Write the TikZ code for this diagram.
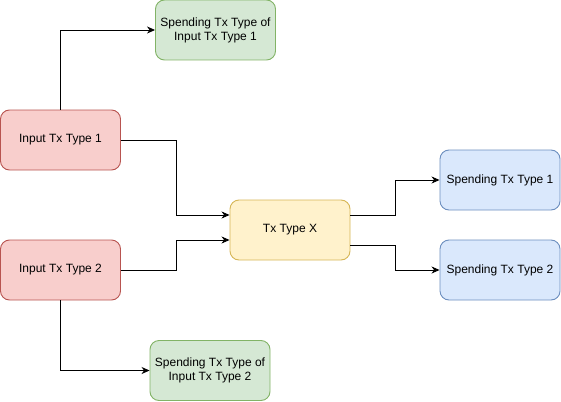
\documentclass[tikz,border=0pt]{standalone}
\usepackage{fontspec}
\setmainfont{Liberation Sans}
\usetikzlibrary{arrows.meta}
\definecolor{RedFill}{HTML}{F8CECC}
\definecolor{RedLine}{HTML}{B85450}
\definecolor{GreenFill}{HTML}{D5E8D4}
\definecolor{GreenLine}{HTML}{82B366}
\definecolor{YellowFill}{HTML}{FFF2CC}
\definecolor{YellowLine}{HTML}{D6B656}
\definecolor{BlueFill}{HTML}{DAE8FC}
\definecolor{BlueLine}{HTML}{6C8EBF}
\tikzstyle{TxNode}=[rectangle, rounded corners=9pt, line width=0.9pt, minimum width=120pt, minimum height=60pt, inner sep=2pt, align=center, font=\fontsize{12}{14}\selectfont]
\tikzstyle{InputNode}=[TxNode, draw=RedLine, fill=RedFill]
\tikzstyle{SpendNode}=[TxNode, draw=GreenLine, fill=GreenFill]
\tikzstyle{MidNode}=[TxNode, draw=YellowLine, fill=YellowFill]
\tikzstyle{OutNode}=[TxNode, draw=BlueLine, fill=BlueFill]
\tikzstyle{TxEdge}=[-{Stealth[length=8pt,width=7pt,inset=2.5pt]}, line width=0.9pt]

\begin{document}
\begin{tikzpicture}[x=1pt, y=-1pt]
\useasboundingbox (0,0) rectangle (561,401);
\node[SpendNode](SpendA) at (215.5,30) {Spending Tx Type of\\Input Tx Type 1};
\node[InputNode](InA) at (60.5,140) {Input Tx Type 1};
\node[InputNode](InB) at (60.5,270) {Input Tx Type 2};
\node[MidNode](TxX) at (290,230) {Tx Type X};
\node[OutNode](SpendOne) at (500,180) {Spending Tx Type 1};
\node[OutNode](SpendTwo) at (500,270) {Spending Tx Type 2};
\node[SpendNode](SpendB) at (210,370.5) {Spending Tx Type of\\Input Tx Type 2};

\draw[TxEdge](InA.north) |- (SpendA.west);
\draw[TxEdge](InA.east) -- ++(55,0) |- ([yshift=15pt]TxX.west);
\draw[TxEdge](InB.east) -- ++(55,0) |- ([yshift=-10pt]TxX.west);
\draw[TxEdge](InB.south) |- (SpendB.west);
\draw[TxEdge]([yshift=15pt]TxX.east) -- ++(45,0) |- (SpendOne.west);
\draw[TxEdge]([yshift=-15pt]TxX.east) -- ++(45,0) |- (SpendTwo.west);
\end{tikzpicture}
\end{document}
